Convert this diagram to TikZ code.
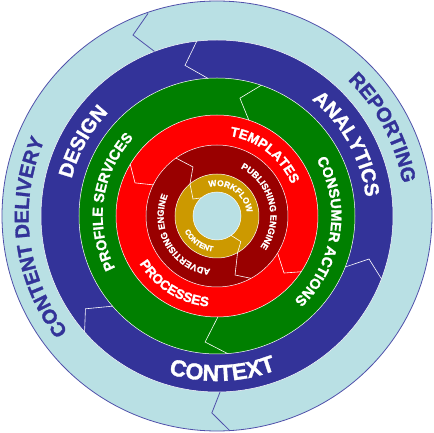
\documentclass[tikz,border=0pt]{standalone}
\usepackage{fontspec}
\setmainfont{Liberation Sans}[BoldFeatures={FakeBold=1.4}]
\usepackage{xcolor}
\usepackage{tikz}
\usetikzlibrary{decorations.text}

\definecolor{lblue}{HTML}{B9E0E4}
\definecolor{dblue}{HTML}{333399}
\definecolor{rim}{HTML}{5050AA}
\definecolor{dgreen}{HTML}{007F00}
\definecolor{dred}{HTML}{990000}
\definecolor{gold}{HTML}{CC9900}

\newcommand\ringfont[1]{\bfseries\fontsize{#1}{#1}\selectfont}

\begin{document}
\begin{tikzpicture}[x=1pt,y=1pt]

\tikzset{sep/.style={white,line width=0.6pt}}
\tikzset{arclabel/.style n args={3}{decorate,decoration={text along path,text align=center,text color=#1,text={|\ringfont{#2}|#3}}}}

\useasboundingbox (-217,-217) rectangle (217,216);

% the rings, outside in
\filldraw[fill=lblue,draw=rim,line width=0.8pt] (0,0) circle (215);
\foreach \r/\c in {176/dblue,138/dgreen,101/red,71/dred,42/gold,24/lblue}
{
\filldraw[fill=\c,draw=white,line width=0.5pt] (0,0) circle (\r);
}

% the zig-zag joins between the segments
\draw[sep,rim,line width=0.8pt] (108.8:214) -- (114.9:199.5) -- (110.8:176);
\draw[sep,rim,line width=0.8pt] (-86.6:215) -- (-91.5:197) -- (-89:176);

\draw[sep] (96.6:176) -- (102:154) -- (93.8:138);
\draw[sep] (-20.9:176) -- (-15.8:158) -- (-21.7:138);
\draw[sep] (-138.8:176) -- (-144.8:161) -- (-139.2:138);

\draw[sep] (71.3:138) -- (79:120) -- (71.6:101);
\draw[sep] (-85.6:138) -- (-95.4:126.6) -- (-89.5:101);

\draw[sep] (149.2:101) -- (158:88.4) -- (154:71);
\draw[sep] (-33.5:101) -- (-40.4:88) -- (-31.4:71);

\draw[sep] (125.3:71) -- (116.1:54.6) -- (130:42);
\draw[sep] (-61.4:71) -- (-73:61.7) -- (-60.7:42);

\draw[sep] (130:42) -- (144.7:29.4) -- (131:24);
\draw[sep] (-60.7:42) -- (-47:35) -- (-54:24);

% labels along the rings
\path[arclabel={dblue}{20}{CONTENT DELIVERY}] (307:188.4) arc[start angle=307,end angle=67,radius=188.4];
\path[arclabel={dblue}{20}{REPORTING}] (148:188.4) arc[start angle=148,end angle=-92,radius=188.4];

\path[arclabel={white}{20}{DESIGN}] (271:150) arc[start angle=271,end angle=31,radius=150];
\path[arclabel={white}{20}{ANALYTICS}] (149:150) arc[start angle=149,end angle=-91,radius=150];
\path[arclabel={white}{23}{CONTEXT}] (-208:165) arc[start angle=-208,end angle=32,radius=165];

\path[arclabel={white}{14.5}{PROFILE SERVICES}] (292:114.3) arc[start angle=292,end angle=52,radius=114.3];
\path[arclabel={white}{14.5}{CONSUMER ACTIONS}] (111:114.3) arc[start angle=111,end angle=-129,radius=114.3];

\path[arclabel={white}{13.5}{TEMPLATES}] (172:81) arc[start angle=172,end angle=-68,radius=81];
\path[arclabel={white}{13.5}{PROCESSES}] (-242:91) arc[start angle=-242,end angle=-2,radius=91];

\path[arclabel={white}{9}{PUBLISHING ENGINE}] (134:53.3) arc[start angle=134,end angle=-106,radius=53.3];
\path[arclabel={white}{9}{ADVERTISING ENGINE}] (330:53.3) arc[start angle=330,end angle=90,radius=53.3];

\path[arclabel={white}{8.5}{WORKFLOW}] (176:30) arc[start angle=176,end angle=-64,radius=30];
\path[arclabel={white}{7.5}{CONTENT}] (-246:35.7) arc[start angle=-246,end angle=-6,radius=35.7];

\end{tikzpicture}
\end{document}
